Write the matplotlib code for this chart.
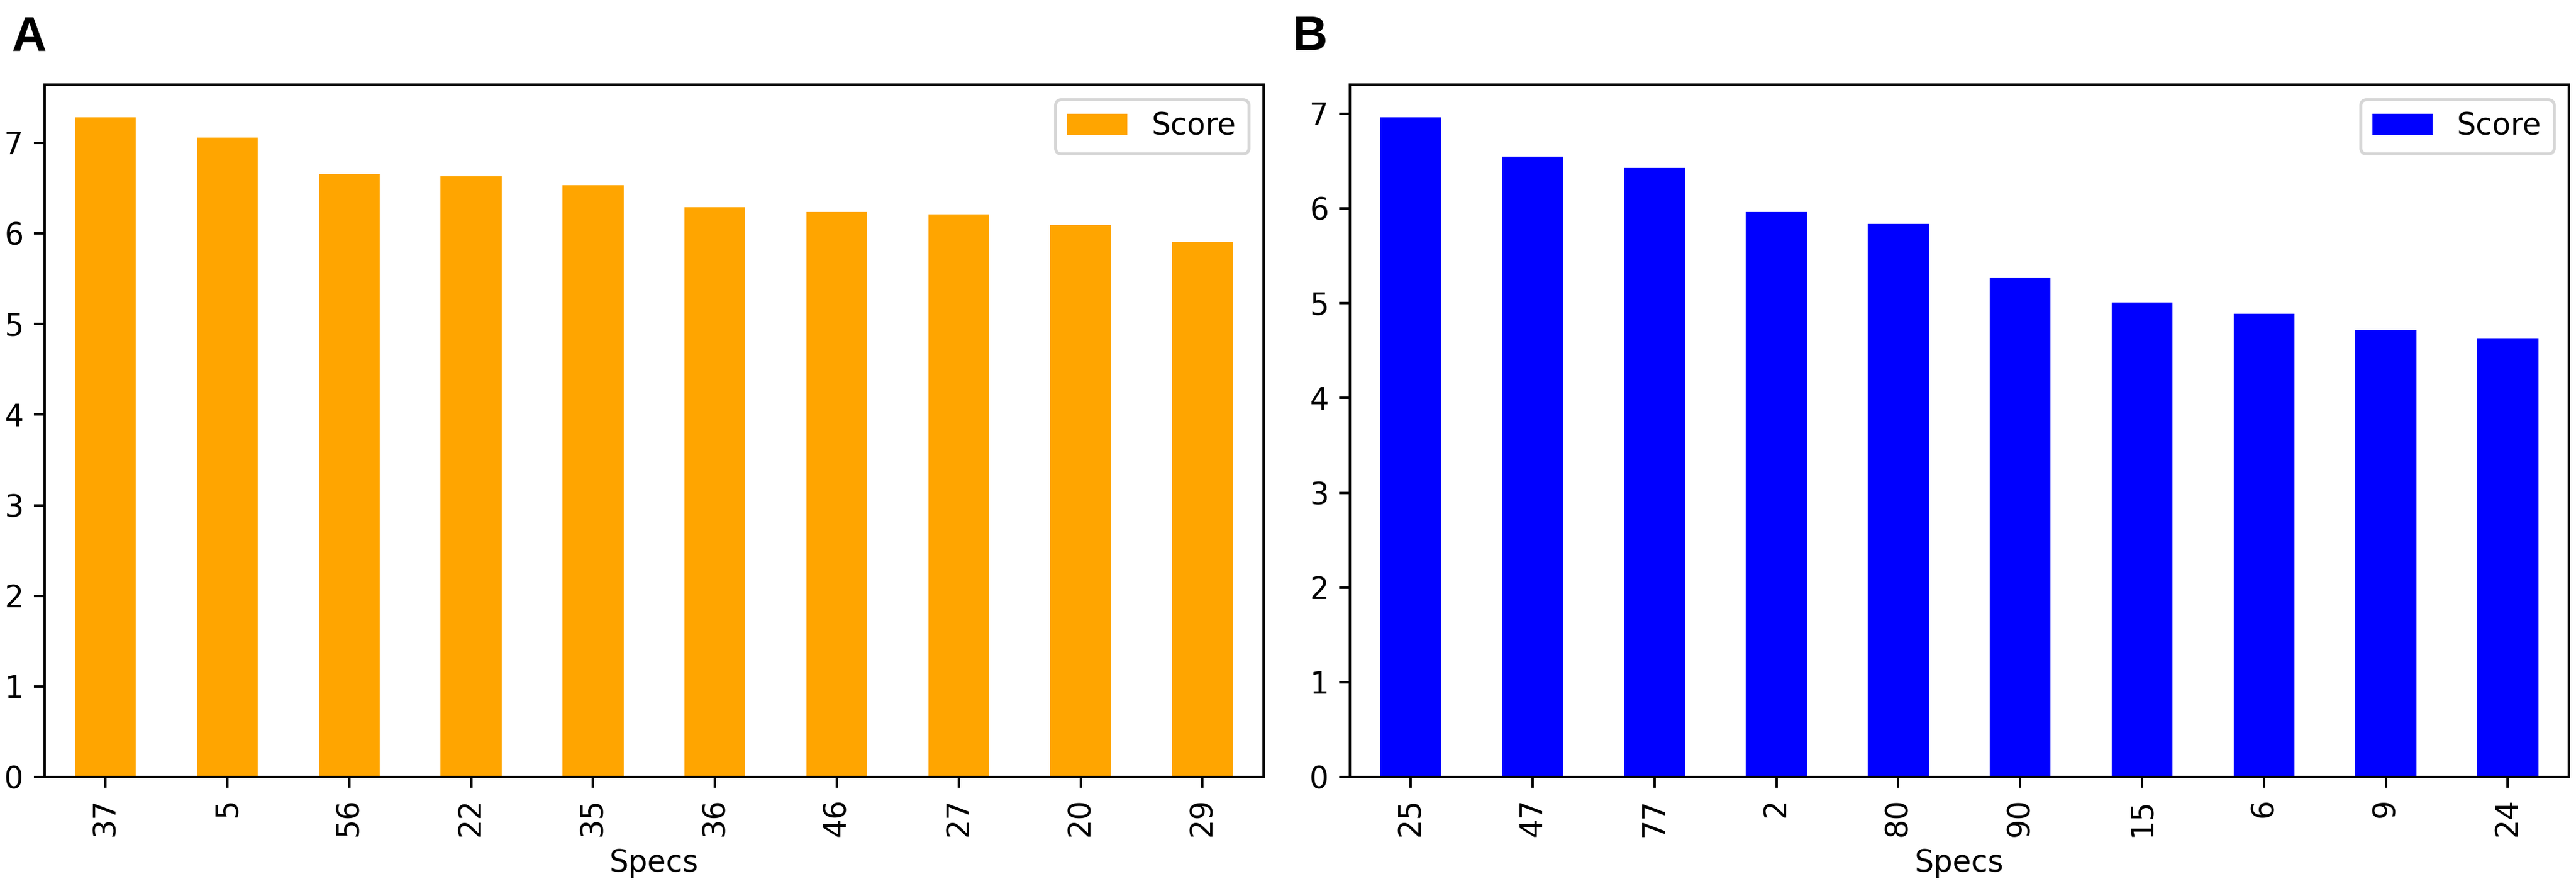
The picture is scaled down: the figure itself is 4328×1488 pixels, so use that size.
import matplotlib
matplotlib.use("Agg")
import matplotlib.pyplot as plt

# datos
specs_a = ["37", "5", "56", "22", "35", "36", "46", "27", "20", "29"]
score_a = [7.28, 7.06, 6.66, 6.63, 6.53, 6.29, 6.24, 6.21, 6.09, 5.91]

specs_b = ["25", "47", "77", "2", "80", "90", "15", "6", "9", "24"]
score_b = [6.96, 6.55, 6.43, 5.96, 5.84, 5.27, 5.01, 4.89, 4.72, 4.63]

fig = plt.figure(figsize=(4328 / 365, 1488 / 365), dpi=365)

ax_a = fig.add_axes([0.0173, 0.1230, 0.4732, 0.7816])
ax_b = fig.add_axes([0.5240, 0.1230, 0.4732, 0.7816])


def panel(ax, specs, score, color):
    x = range(len(specs))
    ax.bar(x, score, width=0.5, color=color, label="Score")
    ax.set_xlim(-0.5, len(specs) - 0.5)
    ax.set_ylim(0, max(score) * 1.05)
    ax.set_xticks(list(x))
    ax.set_xticklabels(specs, rotation=90)
    ax.set_xlabel("Specs")
    ax.legend(loc="upper right")


panel(ax_a, specs_a, score_a, "orange")
panel(ax_b, specs_b, score_b, "blue")

fig.text(0.0046, 0.983, "A", fontsize=16, fontweight="bold",
         family="Liberation Sans", va="top", ha="left")
fig.text(0.5018, 0.983, "B", fontsize=16, fontweight="bold",
         family="Liberation Sans", va="top", ha="left")

fig.savefig("out.png", dpi=365)
